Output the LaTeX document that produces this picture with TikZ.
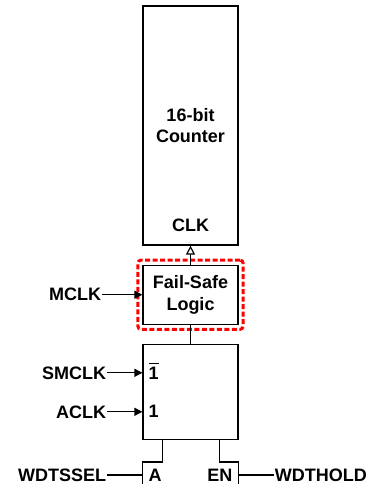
\documentclass[tikz,border=0pt]{standalone}
\usepackage{fontspec}
\setmainfont{Liberation Sans}
\usepackage{tikz}
\usetikzlibrary{positioning,arrows.meta,fit}
\definecolor{crojo}{HTML}{FF0000}
\tikzset{
  bloque/.style={rectangle, draw, line width=1.2pt, minimum width=95pt, inner sep=0pt,
    align=center, font=\bfseries\fontsize{18}{21.5}\selectfont},
  etq/.style={inner sep=1pt, font=\bfseries\fontsize{18}{21.5}\selectfont},
  linea/.style={line width=1.2pt},
  flecha/.style={-{Triangle[length=8pt,width=8pt]}, line width=1.2pt},
  flechab/.style={-{Triangle[open,length=9pt,width=9pt,fill=white]}, line width=1.2pt},
  marco/.style={draw=crojo, line width=3pt, dash pattern=on 5pt off 2.5pt, rounded corners=3pt, inner sep=4.5pt},
}
\begin{document}
\begin{tikzpicture}[node distance=19pt]
  \useasboundingbox (0,0) rectangle (373pt,-484pt);
  \node[bloque, minimum height=239pt] (cnt) at (190.5pt,-125.5pt) {16-bit\\Counter};
  \node[etq, above=13pt of cnt.south] (clk) {CLK};
  \node[bloque, minimum height=59pt, below=of cnt] (fs) {Fail-Safe\\Logic};
  \node[marco, fit=(fs)] (mfs) {};
  \node[bloque, minimum height=95pt, below=of fs] (mux) {};
  \node[bloque, draw=none, minimum height=50pt, below=22pt of mux] (ctl) {};
  \node[etq, anchor=west] (in1n) at ([xshift=5pt,yshift=-27pt]mux.north west) {$\overline{\mbox{1}\rule{0pt}{15pt}}$};
  \node[etq, anchor=west] (in1) at ([xshift=5pt,yshift=-68pt]mux.north west) {1};
  \node[etq, anchor=west] (a) at ([xshift=5pt,yshift=-13pt]ctl.north west) {A};
  \node[etq, anchor=east] (en) at ([xshift=-5pt,yshift=-13pt]ctl.north east) {EN};
  \node[etq, anchor=east] (mclk) at ([xshift=-40pt]fs.west) {MCLK};
  \node[etq, anchor=east] (smclk) at ([xshift=-40pt,yshift=-2pt]in1n.west) {SMCLK};
  \node[etq, anchor=east] (aclk) at ([xshift=-40pt]in1.west) {ACLK};
  \node[etq, anchor=east] (wsel) at ([xshift=-40pt]a.west) {WDTSSEL};
  \node[etq, anchor=west] (whold) at ([xshift=40pt]en.east) {WDTHOLD};
  \draw[flecha] (mclk.east) -- (fs.west);
  \draw[flecha] (smclk.east) -- (smclk.east -| mux.west);
  \draw[flecha] (aclk.east) -- (aclk.east -| mux.west);
  \draw[flechab] (fs.north) -- (cnt.south);
  \draw[linea] (fs.south) -- (mux.north);
  \draw[linea] (ctl.south west) -- (ctl.north west) -- ([xshift=20pt]ctl.north west) -- ([xshift=20pt]mux.south west);
  \draw[linea] (ctl.south east) -- (ctl.north east) -- ([xshift=-19pt]ctl.north east) -- ([xshift=-19pt]mux.south east);
  \draw[linea] (wsel.east) -- (wsel.east -| ctl.west);
  \draw[linea] (whold.west) -- (whold.west -| ctl.east);
\end{tikzpicture}
\end{document}
